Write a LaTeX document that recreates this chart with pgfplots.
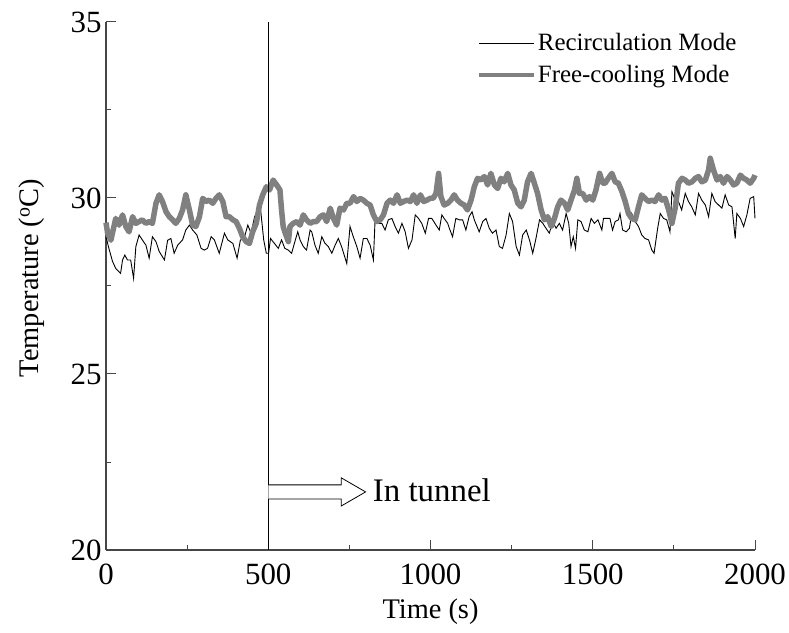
\documentclass[border=0pt]{standalone}
\usepackage{fontspec}
\setmainfont{Liberation Serif}
\usepackage{pgfplots}
\pgfplotsset{compat=1.18}
\definecolor{fcgray}{RGB}{128,128,128}
\definecolor{axgray}{RGB}{70,70,70}
\begin{document}
\begin{tikzpicture}
\begin{axis}[
  scale only axis,
  width=649bp, height=528bp,
  xmin=0, xmax=2000, ymin=20, ymax=35,
  axis x line*=bottom, axis y line*=left,
  axis line style={axgray, line width=1.1bp},
  xtick={0,500,1000,1500,2000},
  ytick={20,25,30,35},
  minor xtick={250,750,1250,1750},
  minor ytick={22.5,27.5,32.5},
  tick align=inside,
  major tick length=10bp, minor tick length=5bp,
  tick style={axgray, line width=1bp},
  /pgf/number format/assume math mode=true,
  /pgf/number format/set thousands separator={},
  ticklabel style={font=\fontsize{31}{36}\selectfont},
  xticklabel style={yshift=-10bp},
  yticklabel style={xshift=-1bp},
  xlabel={Time (s)},
  ylabel={Temperature ($^{\mathrm{o}}$C)},
  label style={font=\fontsize{28.5}{33}\selectfont},
  xlabel style={yshift=-8bp},
  ylabel style={yshift=19bp, xshift=8bp},
  legend style={draw=none, fill=none, at={(0.572,0.982)}, anchor=north west,
    font=\fontsize{25}{28}\selectfont, inner sep=0pt, row sep=9bp},
  legend cell align=left,
  clip=false,
]
\addplot[black, line width=0.9bp, legend image code/.code={\draw[black,line width=1bp] (0bp,0bp) -- (55bp,0bp);}] coordinates {
(0,28.9) (8,28.6) (20,28.2) (30,28.0) (45,27.86) (51,28.24) (58,28.38) (66,28.24) (76,28.24) (85,27.72)
(92,28.62) (102,28.95) (112,28.81) (123,28.66) (133,28.29) (143,28.9) (154,28.76) (164,28.48) (180,28.24)
(190,28.8) (200,28.85) (210,28.43) (221,28.66) (236,28.81) (246,29.09) (257,29.23) (267,29.09) (280,28.95)
(293,28.57) (303,28.52) (313,28.57) (324,28.9) (334,28.81) (349,28.43) (365,29.0) (375,28.81) (391,28.71)
(404,28.29) (414,28.8) (427,28.9) (437,29.23) (447,29.0) (458,29.47) (468,29.28) (476,29.71) (486,28.81)
(494,28.43) (501,28.43) (507,28.85) (519,28.71) (531,28.57) (541,28.81) (551,28.57) (562,28.52) (572,28.43)
(582,28.76) (591,29.04) (598,28.81) (608,28.62) (618,28.52) (629,29.09) (634,29.04) (644,28.66) (654,28.43)
(665,28.9) (675,28.71) (685,28.62) (696,28.43) (706,28.66) (716,28.85) (726,28.62) (742,28.14) (752,29.19)
(762,28.9) (773,28.62) (783,28.29) (793,28.85) (804,28.85) (814,28.66) (824,28.24) (829,29.33) (840,29.28)
(850,29.28) (860,29.09) (870,29.38) (881,29.42) (891,29.19) (901,29.0) (912,29.28) (922,29.04) (932,28.57)
(943,28.81) (953,29.52) (963,29.42) (973,29.28) (984,29.0) (994,29.42) (1004,29.42) (1017,29.23) (1027,29.09)
(1035,29.52) (1042,29.42) (1053,29.28) (1058,29.14) (1068,28.90) (1078,29.42) (1089,29.38) (1099,29.38)
(1109,29.09) (1119,29.47) (1128,29.61) (1135,29.38) (1150,29.04) (1161,29.33) (1171,29.42) (1181,29.14)
(1191,29.0) (1202,29.09) (1212,28.62) (1222,28.57) (1233,28.95) (1243,29.56) (1253,29.33) (1264,28.62)
(1274,28.38) (1284,28.95) (1295,29.09) (1305,28.81) (1315,28.43) (1325,28.85) (1336,29.38) (1346,29.28)
(1356,29.14) (1366,29.0) (1377,29.33) (1387,29.14) (1397,29.28) (1407,29.09) (1418,29.56) (1426,29.28)
(1433,28.62) (1440,28.90) (1447,28.57) (1454,29.38) (1464,29.33) (1474,29.09) (1485,29.04) (1495,29.42)
(1505,29.28) (1516,29.38) (1528,29.09) (1533,29.42) (1543,29.42) (1553,29.42) (1561,29.09) (1569,29.33)
(1579,29.38) (1584,29.56) (1592,29.09) (1603,29.04) (1613,29.14) (1620,29.56) (1631,29.33) (1641,29.19)
(1651,28.95) (1661,28.85) (1672,28.81) (1682,28.52) (1689,28.43) (1700,29.14) (1708,29.56) (1718,29.42)
(1728,29.38) (1738,29.04) (1744,30.18) (1754,29.94) (1764,29.90) (1774,29.66) (1785,30.13) (1795,29.90)
(1805,29.75) (1816,29.52) (1826,30.13) (1836,29.94) (1847,29.80) (1857,29.47) (1867,30.13) (1877,29.90)
(1888,29.80) (1898,29.71) (1908,30.09) (1919,29.80) (1929,29.75) (1939,28.85) (1944,29.56) (1955,29.42)
(1965,29.19) (1975,29.52) (1985,29.99) (1996,30.04) (2000,29.42)
};
\addlegendentry{Recirculation Mode}
\addplot[fcgray, line width=5.5bp, line join=round, legend image code/.code={\draw[fcgray,line width=3.5bp] (0bp,0bp) -- (55bp,0bp);}] coordinates {
(0,29.3) (5,29.0) (15,28.8) (30,29.42) (40,29.23) (51,29.52) (61,29.19) (71,29.04) (82,29.47) (92,29.28)
(102,29.33) (112,29.38) (123,29.28) (133,29.33) (143,29.28) (154,29.85) (164,30.09) (174,29.9) (185,29.61)
(195,29.47) (205,29.38) (215,29.28) (226,29.42) (236,29.66) (246,30.09) (257,29.66) (267,29.23) (277,29.19)
(288,29.47) (298,29.99) (308,29.9) (318,29.94) (329,29.85) (339,29.99) (349,30.09) (360,29.9) (370,29.47)
(380,29.47) (391,29.38) (401,29.33) (411,29.14) (421,28.9) (432,28.76) (442,28.71) (452,29.04) (463,29.28)
(473,29.8) (483,30.09) (494,30.32) (504,30.23) (515,30.51) (526,30.37) (536,30.23) (541,29.66) (546,29.19)
(551,29.04) (562,28.76) (567,29.19) (577,29.28) (588,29.33) (598,29.23) (608,29.52) (618,29.38) (629,29.28)
(639,29.33) (649,29.33) (660,29.47) (670,29.52) (680,29.33) (691,29.71) (701,29.42) (711,29.23) (721,29.71)
(732,29.66) (742,29.85) (752,29.85) (763,30.04) (773,29.9) (783,29.99) (793,29.94) (804,29.85) (814,29.8)
(824,29.52) (835,29.33) (845,29.38) (855,29.52) (866,29.85) (876,29.94) (886,29.85) (897,30.09) (907,29.85)
(917,29.9) (928,29.94) (938,29.9) (948,30.09) (958,29.85) (969,30.09) (979,29.9) (989,29.94) (999,29.99)
(1009,30.0) (1017,30.13) (1025,30.70) (1032,30.04) (1042,29.80) (1053,29.85) (1063,29.94) (1073,30.09)
(1083,29.94) (1094,29.85) (1104,29.80) (1114,29.66) (1125,29.94) (1135,30.32) (1145,30.56) (1155,30.51)
(1166,30.61) (1176,30.37) (1186,30.70) (1197,30.37) (1207,30.27) (1217,30.56) (1227,30.46) (1238,30.70)
(1248,30.37) (1258,30.23) (1269,29.85) (1279,29.75) (1289,29.94) (1299,30.46) (1310,30.70) (1320,30.42)
(1330,30.13) (1341,29.66) (1351,29.38) (1361,29.47) (1372,29.19) (1382,29.42) (1392,29.75) (1402,29.94)
(1413,29.85) (1423,29.66) (1433,29.94) (1444,30.23) (1451,30.56) (1459,30.13) (1469,30.13) (1480,29.94)
(1490,30.04) (1500,29.94) (1510,30.23) (1521,30.70) (1531,30.42) (1538,30.42) (1548,30.56) (1559,30.70)
(1569,30.46) (1579,30.42) (1590,30.18) (1600,29.90) (1610,29.56) (1620,29.42) (1631,29.38) (1641,29.75)
(1651,30.09) (1661,29.99) (1672,29.90) (1682,29.94) (1692,29.90) (1703,30.09) (1713,29.94) (1723,29.99)
(1734,29.66) (1744,29.28) (1754,29.71) (1764,30.42) (1775,30.56) (1785,30.51) (1795,30.42) (1806,30.46)
(1816,30.56) (1826,30.61) (1836,30.46) (1847,30.51) (1857,30.80) (1862,31.13) (1872,30.80) (1883,30.51)
(1893,30.61) (1903,30.42) (1914,30.61) (1924,30.51) (1934,30.37) (1944,30.42) (1955,30.65) (1965,30.56)
(1975,30.51) (1985,30.42) (1996,30.56) (2000,30.65)
};
\addlegendentry{Free-cooling Mode}
\draw[black, line width=1.1bp] (axis cs:500,20) -- (axis cs:500,35);
\draw[black, line width=0.8bp, fill=white] (axis cs:500,21.85) -- (axis cs:725,21.85) -- (axis cs:725,22.05)
  -- (axis cs:800,21.65) -- (axis cs:725,21.25) -- (axis cs:725,21.45) -- (axis cs:500,21.45);
\node[anchor=west, font=\fontsize{33}{38}\selectfont, inner sep=0pt] at (axis cs:822,21.7) {In tunnel};
\end{axis}
\pgfresetboundingbox
\path[use as bounding box] (-106bp,-83bp) rectangle (683bp,550bp);
\end{tikzpicture}
\end{document}
